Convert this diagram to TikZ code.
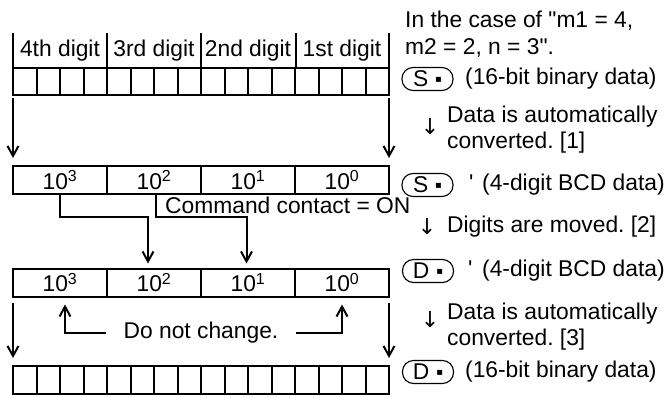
\documentclass[tikz,border=0pt]{standalone}
\usepackage{fontspec}
\setmainfont{Liberation Sans}
\newfontfamily\symfont{DejaVu Sans}
\newcommand{\sqdot}{\raisebox{4pt}{\fontsize{10}{10}\symfont ▪}}
\newcommand{\downmark}{{\fontsize{22}{22}\symfont ↓}}
\usetikzlibrary{arrows.meta, positioning, calc}
\frenchspacing

\begin{document}
\begin{tikzpicture}[x=1pt, y=-1pt,
    font=\fontsize{22.8}{26}\selectfont,
    frame/.style={draw, line width=2pt, inner sep=0pt, outer sep=0pt},
    bitrow/.style={frame, minimum width=376pt, minimum height=26pt},
    digitcell/.style={frame, minimum width=94pt, minimum height=28pt},
    flow/.style={line width=2pt, -{Straight Barb[length=10pt, width=11pt, line width=2pt]}},
    opnd/.style={draw, line width=1.1pt, rounded corners=11pt, minimum width=51pt,
      minimum height=23pt, inner sep=0pt},
    note/.style={anchor=west, inner sep=0pt, align=left}]
  \useasboundingbox (0,0) rectangle (664,396);

  % Digit header over the source word
  \foreach \x in {13,107,201,296,389}
    \draw[line width=2pt] (\x,33) -- (\x,69);
  \foreach \lbl [count=\i] in {4th digit, 3rd digit, 2nd digit, 1st digit}
    \node (hd\i) at (13+94*\i-47,51) {\lbl};

  % 16-bit binary source
  \node[bitrow] (bin1) at (201,81.5) {};
  \foreach \i in {1,...,15}
    \draw[line width=2pt] ($(bin1.north west)+(23.5*\i,0)$) -- ($(bin1.south west)+(23.5*\i,0)$);

  % BCD source and destination
  \foreach \e [count=\i from 0] in {3,2,1,0} {
    \node[digitcell] (s\e) at (60+94*\i,180) {10\textsuperscript{\e}};
    \node[digitcell] (d\e) at (60+94*\i,282.5) {10\textsuperscript{\e}};
  }

  % 16-bit binary destination
  \node[bitrow, minimum height=28pt] (bin2) at (201,380) {};
  \foreach \i in {1,...,15}
    \draw[line width=2pt] ($(bin2.north west)+(23.5*\i,0)$) -- ($(bin2.south west)+(23.5*\i,0)$);

  % Conversions
  \draw[flow] ([yshift=-3pt]bin1.south west) -- ([yshift=8pt]s3.north west);
  \draw[flow] ([yshift=-3pt]bin1.south east) -- ([yshift=8pt]s0.north east);
  \draw[flow] ([yshift=-6pt]d3.south west) -- ([yshift=8pt]bin2.north west);
  \draw[flow] ([yshift=-6pt]d0.south east) -- ([yshift=8pt]bin2.north east);

  % Digit move
  \node[note] (cmd) at (165,205) {Command contact = ON};
  \draw[flow] (s3.south) -- ++(0,23) -| ([xshift=-6pt,yshift=5pt]d2.north);
  \draw[flow] ([xshift=2pt]s2.south) -- ++(0,23) -| ([xshift=-1.5pt,yshift=5pt]d1.north);

  % Unchanged digits
  \node[inner xsep=17pt, inner ysep=0pt] (keep) at (201,333) {Do not change.};
  \draw[flow] (keep.west) -| ([xshift=5pt,yshift=-8pt]d3.south);
  \draw[flow] (keep.east) -| ([yshift=-8pt]d0.south);

  % Notes on the right
  \node[note] (case1) at (405,21) {In the case of \textquotedbl m1 = 4,};
  \node[note] (case2) at (405,48) {m2 = 2, n = 3\textquotedbl.};
  \node[opnd] (srcS) at (427.5,79) {S\hspace{7pt}\sqdot};
  \node[note] at (465,79) {(16-bit binary data)};
  \node (step1) at (430,127) {\downmark};
  \node[note] at (447,130) {Data is automatically\\converted. [1]};
  \node[opnd] (srcSp) at (427.5,185) {S\hspace{7pt}\sqdot};
  \node[note] at (469,183) {\textquotesingle};
  \node[note] at (482,185) {(4-digit BCD data)};
  \node (step2) at (427,227) {\downmark};
  \node[note] at (447,227) {Digits are moved. [2]};
  \node[opnd] (dstDp) at (428,271) {D\hspace{7pt}\sqdot};
  \node[note] at (468,269) {\textquotesingle};
  \node[note] at (482,271) {(4-digit BCD data)};
  \node (step3) at (430,320) {\downmark};
  \node[note] at (447,326.5) {Data is automatically\\converted. [3]};
  \node[opnd] (dstD) at (428,372) {D\hspace{7pt}\sqdot};
  \node[note] at (465,372) {(16-bit binary data)};
\end{tikzpicture}
\end{document}
